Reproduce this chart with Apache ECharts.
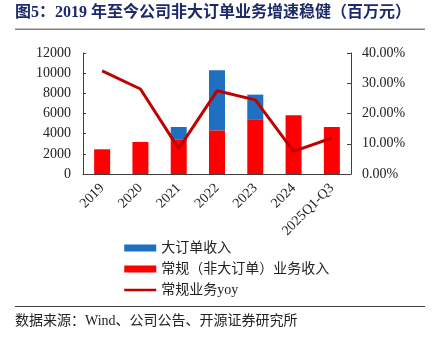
<!DOCTYPE html>
<html><head><meta charset="utf-8">
<script src="https://cdn.jsdelivr.net/npm/echarts@6/dist/echarts.min.js"></script>
<style>html,body{margin:0;padding:0;background:#fff}#c{width:437px;height:342px}</style>
</head><body><div id="c"></div>
<script>
const categories = ['2019','2020','2021','2022','2023','2024','2025Q1-Q3'];
const regularRevenue = [2450, 3180, 3440, 4330, 5420, 5820, 4660];
const largeOrderRevenue = [null, null, 1220, 5960, 2450, null, null];
const regularYoy = [34.1, 28.1, 8.4, 27.5, 24.5, 7.5, 11.9];
const leftTicks = [0, 12000, 2000];
const rightTicks = [0, 40, 10];

const FONT = '"Liberation Serif","Noto Sans CJK SC",serif';
const chart = echarts.init(document.getElementById('c'));
chart.setOption({
  animation: false,
  backgroundColor: '#fff',
  graphic: [
    {type:'text', left:15, top:5, style:{text:'图5：2019 年至今公司非大订单业务增速稳健（百万元）', font:'bold 16px '+FONT, fill:'#1B2A6B'}},
    {type:'rect', shape:{x:15, y:28.5, width:410, height:1.5}, style:{fill:'#808080'}},
    {type:'rect', shape:{x:15, y:306, width:410, height:1}, style:{fill:'#404040'}},
    {type:'text', left:15, top:314, style:{text:'数据来源：Wind、公司公告、开源证券研究所', font:'14px '+FONT, fill:'#222'}}
  ],
  grid: {left:83, right:86, top:53, bottom:168, containLabel:false},
  legend: {
    orient:'vertical', left:118, top:236, itemGap:7, itemWidth:32, itemHeight:7,
    textStyle:{fontFamily:FONT, fontSize:14, color:'#222'},
    data:[{name:'大订单收入', icon:'rect'}, {name:'常规（非大订单）业务收入', icon:'rect'},
          {name:'常规业务yoy', itemStyle:{opacity:0}, lineStyle:{width:2.5, color:'#C00000'}}]
  },
  xAxis: {
    type:'category', data:categories,
    axisLine:{lineStyle:{color:'#404040'}},
    axisTick:{inside:true, length:4, lineStyle:{color:'#404040'}},
    axisLabel:{rotate:45, interval:0, fontFamily:FONT, fontSize:14, color:'#222', margin:12}
  },
  yAxis: [
    {type:'value', min:leftTicks[0], max:leftTicks[1], interval:leftTicks[2],
     axisLine:{show:true, lineStyle:{color:'#404040'}},
     axisTick:{show:true, inside:true, length:3, lineStyle:{color:'#404040'}},
     splitLine:{show:false},
     axisLabel:{fontFamily:FONT, fontSize:14, color:'#222', margin:12, formatter:v=>String(v)}},
    {type:'value', min:rightTicks[0], max:rightTicks[1], interval:rightTicks[2],
     axisLine:{show:true, lineStyle:{color:'#404040'}},
     axisTick:{show:true, inside:true, length:4, lineStyle:{color:'#404040'}},
     splitLine:{show:false},
     axisLabel:{fontFamily:FONT, fontSize:14, color:'#222', margin:11, formatter:v=>v.toFixed(2)+'%'}}
  ],
  series: [
    {name:'常规（非大订单）业务收入', type:'bar', stack:'rev', data:regularRevenue, barWidth:16, itemStyle:{color:'#FF0000'}},
    {name:'大订单收入', type:'bar', stack:'rev', data:largeOrderRevenue, barWidth:16, itemStyle:{color:'#1F70C1'}},
    {name:'常规业务yoy', type:'line', yAxisIndex:1, data:regularYoy, symbol:'none', lineStyle:{color:'#C00000', width:3}, itemStyle:{color:'#C00000'}}
  ]
});
</script></body></html>
